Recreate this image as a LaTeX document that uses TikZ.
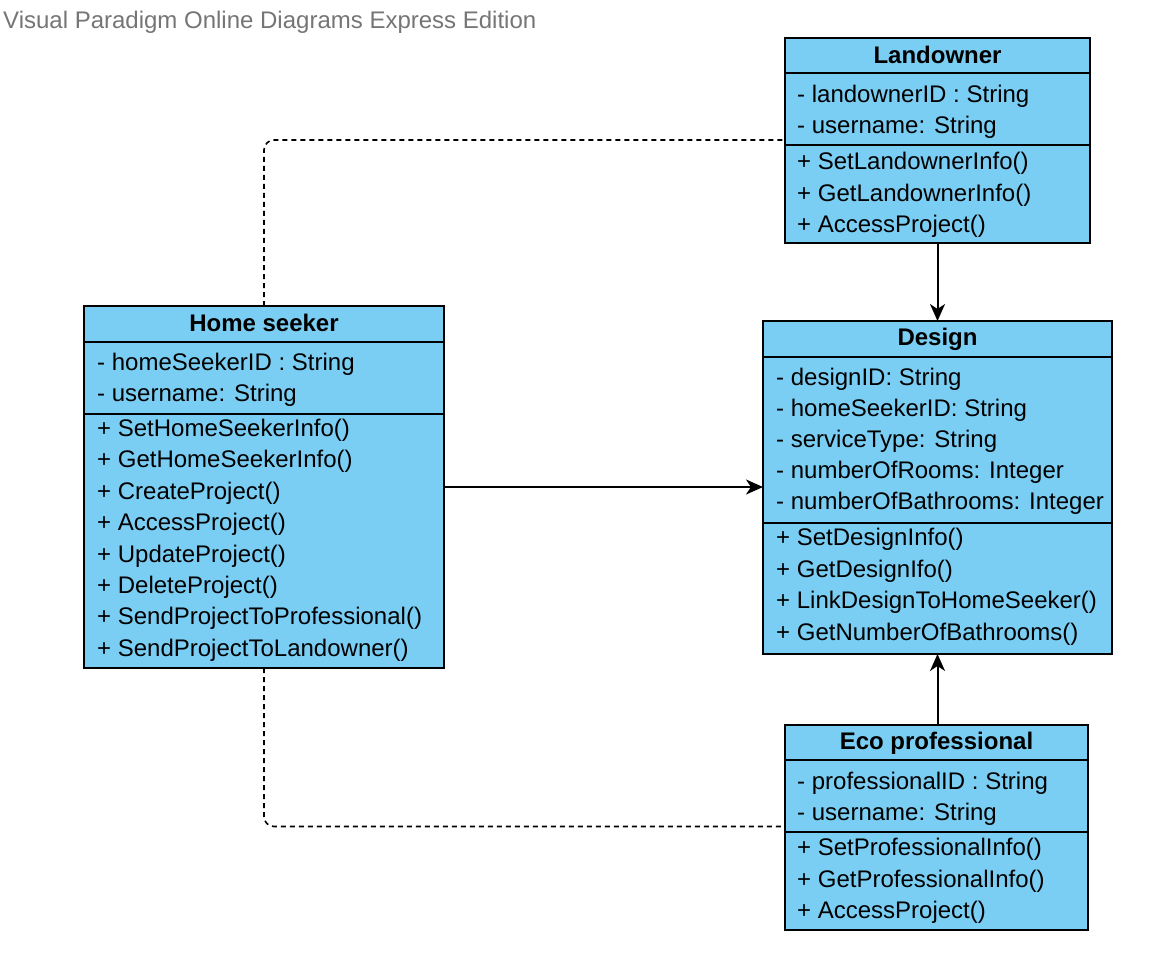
\documentclass[tikz,border=0pt]{standalone}
\usepackage{fontspec}
\setmainfont{Liberation Sans}
\usetikzlibrary{arrows.meta}
\definecolor{classfill}{RGB}{122,206,244}
\definecolor{titlegray}{RGB}{117,117,117}
\tikzset{
  classbox/.style={draw=black, line width=2pt, fill=classfill, rectangle, inner sep=0pt, outer sep=0pt, anchor=north west},
  sepline/.style={draw=black, line width=2pt},
  txt/.style={anchor=base west, inner sep=0pt, font=\fontsize{24}{29}\selectfont},
  hdr/.style={anchor=base, inner sep=0pt, font=\fontsize{24}{29}\selectfont\bfseries},
  assoc/.style={draw=black, line width=2pt, -{Stealth[length=17pt,width=15pt,inset=5pt]}},
  depend/.style={draw=black, line width=1.6pt, dash pattern=on 5pt off 4pt, rounded corners=10pt},
}
\begin{document}
\begin{tikzpicture}[x=1pt,y=-1pt]
\useasboundingbox (0,0) rectangle (1158,968);

\node[txt, text=titlegray] (title) at (3,28.5) {Visual Paradigm Online Diagrams Express Edition};

% Landowner
\node[classbox, minimum width=305pt, minimum height=205pt] (land) at (785,38) {};
\draw[sepline] (785,73.5) -- (1090,73.5);
\draw[sepline] (785,145.5) -- (1090,145.5);
\node[hdr] (landh) at (937.5,64) {Landowner};
\node[txt] (land1) at (797,102.7) {- landownerID : String};
\node[txt] (land2) at (797,133.7) {- username: String};
\node[txt] (land3) at (797,170) {+ SetLandownerInfo()};
\node[txt] (land4) at (797,201.2) {+ GetLandownerInfo()};
\node[txt] (land5) at (797,232.4) {+ AccessProject()};

% Design
\node[classbox, minimum width=349pt, minimum height=333pt] (design) at (763,321) {};
\draw[sepline] (763,356.5) -- (1112,356.5);
\draw[sepline] (763,523) -- (1112,523);
\node[hdr] (designh) at (937.5,345) {Design};
\node[txt] (des1) at (776,385) {- designID: String};
\node[txt] (des2) at (776,416) {- homeSeekerID: String};
\node[txt] (des3) at (776,447) {- serviceType: String};
\node[txt] (des4) at (776,478) {- numberOfRooms: Integer};
\node[txt] (des5) at (776,509) {- numberOfBathrooms: Integer};
\node[txt] (des6) at (776,545.8) {+ SetDesignInfo()};
\node[txt] (des7) at (776,577.3) {+ GetDesignIfo()};
\node[txt] (des8) at (776,608.8) {+ LinkDesignToHomeSeeker()};
\node[txt] (des9) at (776,640.3) {+ GetNumberOfBathrooms()};

% Home seeker
\node[classbox, minimum width=360pt, minimum height=362pt] (home) at (84,306) {};
\draw[sepline] (84,341.5) -- (444,341.5);
\draw[sepline] (84,413.5) -- (444,413.5);
\node[hdr] (homeh) at (264,331.5) {Home seeker};
\node[txt] (hs1) at (97,370) {- homeSeekerID : String};
\node[txt] (hs2) at (97,401) {- username: String};
\node[txt] (hs3) at (97,436.5) {+ SetHomeSeekerInfo()};
\node[txt] (hs4) at (97,467.9) {+ GetHomeSeekerInfo()};
\node[txt] (hs5) at (97,499.3) {+ CreateProject()};
\node[txt] (hs6) at (97,530.7) {+ AccessProject()};
\node[txt] (hs7) at (97,562.1) {+ UpdateProject()};
\node[txt] (hs8) at (97,593.5) {+ DeleteProject()};
\node[txt] (hs9) at (97,624.9) {+ SendProjectToProfessional()};
\node[txt] (hs10) at (97,656.3) {+ SendProjectToLandowner()};

% Eco professional
\node[classbox, minimum width=303pt, minimum height=205pt] (eco) at (785,725) {};
\draw[sepline] (785,759.5) -- (1088,759.5);
\draw[sepline] (785,832.3) -- (1088,832.3);
\node[hdr] (ecoh) at (936.5,749.5) {Eco professional};
\node[txt] (eco1) at (797,789) {- professionalID : String};
\node[txt] (eco2) at (797,820) {- username: String};
\node[txt] (eco3) at (797,855.8) {+ SetProfessionalInfo()};
\node[txt] (eco4) at (797,887.2) {+ GetProfessionalInfo()};
\node[txt] (eco5) at (797,918.6) {+ AccessProject()};

% connectors
\coordinate (landin) at (785,140);
\coordinate (ecoin) at (785,826.5);
\draw[depend] (home.north) |- (landin);
\draw[depend] (home.south) |- (ecoin);
\draw[assoc] (land.south) -- (design.north);
\draw[assoc] (home.east) -- (home.east -| design.west);
\draw[assoc] (eco.north -| design.south) -- (design.south);
\end{tikzpicture}
\end{document}
